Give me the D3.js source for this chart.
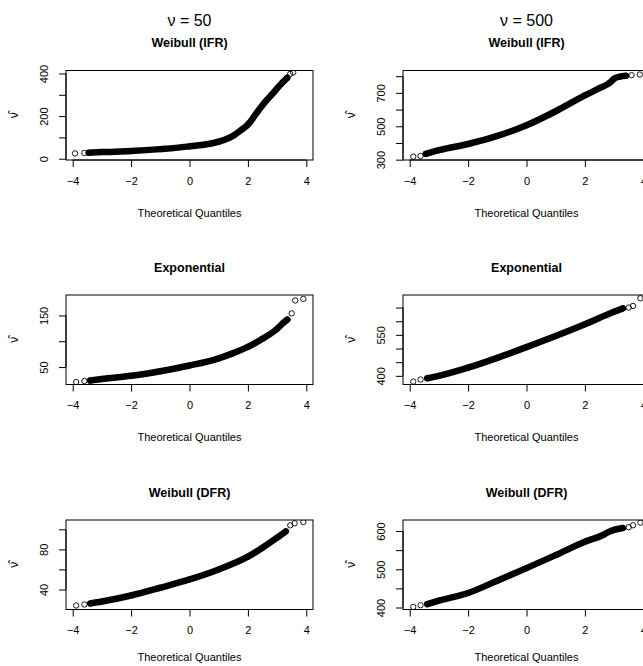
<!DOCTYPE html>
<html><head><meta charset="utf-8">
<script src="https://cdn.jsdelivr.net/npm/d3@7"></script>
<style>
html,body{margin:0;padding:0;background:#fff;}
text{font-family:"Liberation Sans",Arial,Helvetica,sans-serif;fill:#000;}
</style></head>
<body>
<svg id="chart" width="643" height="666"></svg>
<script>
// ---------- data ----------
const columnTitles = ["ν = 50", "ν = 500"];
const rowTitles = ["Weibull (IFR)", "Exponential", "Weibull (DFR)"];
const xLabel = "Theoretical Quantiles";
const yLabel = "ν̂";
const xTicks = [-4, -2, 0, 2, 4];

// Weibull (IFR), nu = 50
const q_ifr50 = [-3.92, -3.6, -3.45, -3.0, -2.0, -1.0, 0.0, 1.0, 1.5, 1.8, 2.0, 2.3, 2.6, 2.8, 3.0, 3.2, 3.35, 3.45, 3.55];
const v_ifr50 = [25, 27, 28, 31, 36, 45, 58, 80, 108, 138, 160, 215, 268, 298, 330, 360, 380, 398, 405];
// Weibull (IFR), nu = 500
const q_ifr500 = [-3.88, -3.63, -3.45, -3.3, -3.0, -2.0, -1.0, 0.0, 1.0, 2.0, 2.5, 2.85, 3.0, 3.2, 3.4, 3.6, 3.88];
const v_ifr500 = [318, 322, 335, 342, 357, 394, 442, 506, 590, 685, 728, 760, 785, 797, 802, 806, 810];
// Exponential, nu = 50
const q_exp50 = [-3.88, -3.6, -3.4, -3.0, -2.0, -1.0, 0.0, 1.0, 1.5, 2.0, 2.5, 3.0, 3.2, 3.35, 3.5, 3.62, 3.9];
const v_exp50 = [21, 23, 24, 27, 33, 42, 53, 67, 77, 89, 105, 124, 135, 142, 154, 179, 182];
// Exponential, nu = 500
const q_exp500 = [-3.88, -3.63, -3.4, -3.0, -2.0, -1.0, 0.0, 1.0, 2.0, 3.0, 3.3, 3.5, 3.65, 3.9];
const v_exp500 = [379, 386.5, 391, 400, 430, 466, 505, 546, 589, 635, 647, 650, 656, 684];
// Weibull (DFR), nu = 50
const q_dfr50 = [-3.88, -3.6, -3.4, -3.0, -2.0, -1.0, 0.0, 1.0, 2.0, 2.5, 3.0, 3.3, 3.45, 3.6, 3.9];
const v_dfr50 = [24, 25, 26, 28, 34, 41.7, 50, 60, 72.7, 81.7, 91.7, 98, 104, 106, 107.3];
// Weibull (DFR), nu = 500
const q_dfr500 = [-3.88, -3.63, -3.4, -3.0, -2.0, -1.0, 0.0, 1.0, 2.0, 2.6, 2.8, 3.0, 3.3, 3.5, 3.65, 3.9];
const v_dfr500 = [401.6, 406, 409, 418, 438, 470, 503, 537, 572, 589, 597, 603, 608, 610, 615, 622];

// y axis limits, ticks and printed tick labels per panel
const yLimits = [[-6, 414], [298, 834], [16.2, 189.6], [368.3, 696], [20, 109.3], [394.8, 628.8]];
const yTicks = [[0,100,200,300,400],[300,400,500,600,700,800],[50,100,150],[400,450,500,550,600,650],[40,60,80,100],[400,450,500,550,600]];
const yTickLabels = [[0,200,400],[300,500,700],[50,150],[400,550],[40,80],[400,500,600]];

const panelQ = [q_ifr50, q_ifr500, q_exp50, q_exp500, q_dfr50, q_dfr500];
const panelV = [v_ifr50, v_ifr500, v_exp50, v_exp500, v_dfr50, v_dfr500];

// ---------- layout ----------
const colX = [66, 403];
const boxW = 247;
const rowTop = [70.5, 295, 520];
const boxH = 89.5;
const xLabelOffset = [53, 52.5, 47];

const svg = d3.select("#chart");

for (let r = 0; r < 3; r++) {
  for (let c = 0; c < 2; c++) {
    const i = r * 2 + c;
    const x0 = colX[c], y0 = rowTop[r];
    const x = d3.scaleLinear().domain([-4.23, 4.23]).range([x0, x0 + boxW]);
    const y = d3.scaleLinear().domain(yLimits[i]).range([y0 + boxH, y0]);
    const g = svg.append("g");

    const clipId = "clip" + i;
    g.append("clipPath").attr("id", clipId).append("rect")
      .attr("x", x0).attr("y", y0).attr("width", boxW).attr("height", boxH);

    const pts = panelQ[i].map((q, k) => [q, panelV[i][k]]);
    const dense = pts.filter(p => p[0] >= -3.46 && p[0] <= 3.4);
    const plot = g.append("g").attr("clip-path", `url(#${clipId})`);
    plot.append("path")
      .attr("d", d3.line().x(d => x(d[0])).y(d => y(d[1])).curve(d3.curveMonotoneX)(dense))
      .attr("fill", "none").attr("stroke", "#000").attr("stroke-width", 6.5)
      .attr("stroke-linecap", "round").attr("stroke-linejoin", "round");
    plot.selectAll("circle").data(pts).join("circle")
      .attr("cx", d => x(d[0])).attr("cy", d => y(d[1])).attr("r", 2.7)
      .attr("fill", "none").attr("stroke", "#000").attr("stroke-width", 0.9);

    // box
    g.append("rect").attr("x", x0).attr("y", y0).attr("width", boxW).attr("height", boxH)
      .attr("fill", "none").attr("stroke", "#000").attr("stroke-width", 1);

    // x axis
    const xa = g.append("g").attr("transform", `translate(0,${y0 + boxH})`)
      .call(d3.axisBottom(x).tickValues(xTicks).tickSize(7).tickPadding(10)
        .tickFormat(d => d < 0 ? "\u2212" + Math.abs(d) : String(d)));
    xa.select(".domain").attr("d", `M${x(xTicks[0])},0H${x(xTicks[xTicks.length-1])}`);
    xa.selectAll("text").attr("font-size", 11).attr("font-family", '"Liberation Sans",Arial,sans-serif');

    // y axis
    const ya = g.append("g").attr("transform", `translate(${x0},0)`)
      .call(d3.axisLeft(y).tickValues(yTicks[i]).tickSize(7)
        .tickFormat(d => yTickLabels[i].includes(d) ? String(d) : ""));
    const yt = yTicks[i];
    ya.select(".domain").attr("d", `M0,${y(yt[0])}V${y(yt[yt.length-1])}`);
    ya.selectAll(".tick text")
      .attr("x", null).attr("dy", null)
      .attr("transform", "translate(-22.5,0) rotate(-90)")
      .attr("text-anchor", "middle").attr("dominant-baseline", "central")
      .attr("font-size", 11).attr("font-family", '"Liberation Sans",Arial,sans-serif');

    // labels
    g.append("text").attr("x", x0 + boxW / 2).attr("y", y0 + boxH + xLabelOffset[r])
      .attr("text-anchor", "middle").attr("dominant-baseline", "central")
      .attr("font-size", 11).text(xLabel);
    g.append("text").attr("transform", `translate(${x0 - 52},${y0 + boxH / 2}) rotate(-90)`)
      .attr("text-anchor", "middle").attr("dominant-baseline", "central")
      .attr("font-size", 12).text(yLabel);
    g.append("text").attr("x", x0 + boxW / 2).attr("y", y0 - 27.5)
      .attr("text-anchor", "middle").attr("dominant-baseline", "central")
      .attr("font-size", 12.5).attr("font-weight", "bold").text(rowTitles[r]);
    if (r === 0) {
      g.append("text").attr("x", x0 + boxW / 2).attr("y", 20)
        .attr("text-anchor", "middle").attr("dominant-baseline", "central")
        .attr("font-size", 16).text(columnTitles[c]);
    }
  }
}
</script>
</body></html>
